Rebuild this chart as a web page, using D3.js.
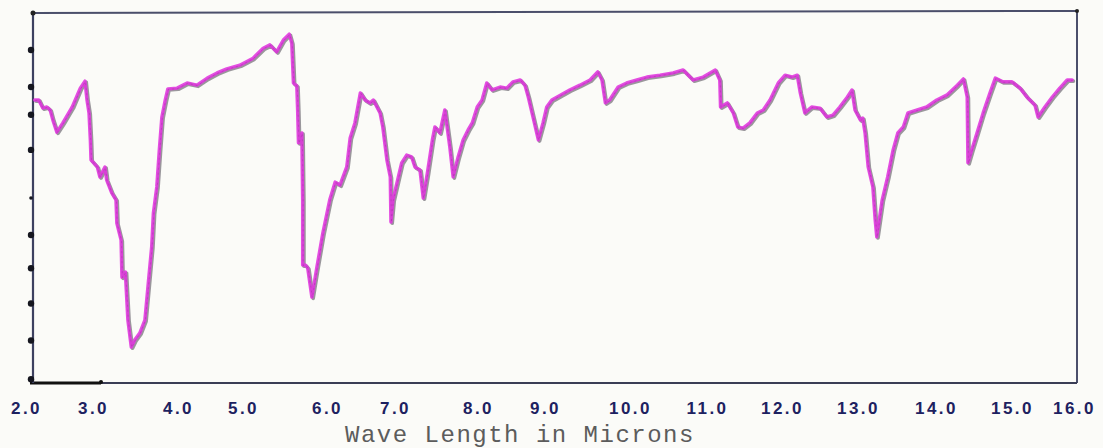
<!DOCTYPE html>
<html>
<head>
<meta charset="utf-8">
<script src="https://cdn.jsdelivr.net/npm/d3@7"></script>
<style>
  html, body { margin: 0; padding: 0; background: #fbfbf8; }
  svg { display: block; }
</style>
</head>
<body>
<div id="chart"></div>
<script>
// ---------------- DATA ----------------
// wavelength (microns) of the traced spectrum
const wavelength = [
  2.13, 2.19, 2.25, 2.31, 2.36, 2.40, 2.46, 2.55, 2.69, 2.81, 2.88, 2.91, 2.94, 2.96, 2.97,
  3.05, 3.08, 3.14, 3.16, 3.22, 3.27, 3.28, 3.33, 3.34, 3.38, 3.41, 3.45, 3.49, 3.55, 3.61,
  3.65, 3.69, 3.71, 3.75, 3.78, 3.81, 3.85, 3.88, 3.99, 4.14, 4.29, 4.45, 4.60, 4.75, 4.95,
  5.12, 5.24, 5.32, 5.40, 5.48, 5.55, 5.58, 5.60, 5.64, 5.65, 5.66, 5.70, 5.71, 5.71, 5.74,
  5.77, 5.82, 5.88, 5.95, 6.04, 6.12, 6.19, 6.29, 6.34, 6.41, 6.49, 6.56, 6.63, 6.68, 6.78,
  6.82, 6.88, 6.93, 6.94, 6.97, 7.04, 7.08, 7.14, 7.20, 7.24, 7.30, 7.34, 7.39, 7.45, 7.48,
  7.54, 7.60, 7.66, 7.70, 7.76, 7.82, 7.88, 7.93, 7.99, 8.06, 8.13, 8.21, 8.33, 8.43, 8.52,
  8.63, 8.70, 8.75, 8.82, 8.90, 8.97, 9.02, 9.08, 9.18, 9.29, 9.41, 9.53, 9.62, 9.67, 9.71,
  9.76, 9.86, 9.96, 10.09, 10.22, 10.39, 10.56, 10.69, 10.82, 10.95, 11.11, 11.17, 11.18, 11.27, 11.35,
  11.41, 11.48, 11.57, 11.67, 11.75, 11.84, 11.95, 12.04, 12.13, 12.20, 12.24, 12.30, 12.39, 12.50, 12.59,
  12.67, 12.76, 12.86, 12.92, 12.96, 13.03, 13.06, 13.09, 13.13, 13.19, 13.22, 13.24, 13.31, 13.38, 13.45,
  13.51, 13.58, 13.64, 13.76, 13.88, 14.01, 14.14, 14.28, 14.36, 14.41, 14.42, 14.47, 14.54, 14.62, 14.71,
  14.78, 14.88, 15.00, 15.13, 15.24, 15.37, 15.42, 15.53, 15.65, 15.77, 15.89, 15.97
];
// percent transmission at each wavelength
const transmission = [
  76.5, 76.5, 74.3, 74.6, 73.8, 71.1, 67.8, 70.3, 74.6, 79.7, 81.6, 76.5, 73.0, 65.7, 60.3,
  58.4, 55.7, 58.4, 54.9, 51.4, 49.5, 43.2, 38.6, 28.6, 30.0, 17.0, 9.7, 11.6, 13.5, 17.0,
  27.0, 36.8, 45.9, 53.0, 63.0, 71.9, 76.5, 79.5, 79.7, 81.1, 80.5, 82.4, 83.8, 84.9, 85.9,
  87.8, 90.5, 91.4, 89.5, 92.7, 94.3, 91.9, 81.1, 80.3, 73.8, 64.9, 67.6, 49.5, 31.9, 31.9,
  31.1, 23.2, 31.4, 40.5, 49.5, 54.3, 53.5, 58.4, 66.2, 70.3, 78.4, 76.5, 75.7, 76.5, 73.0,
  69.2, 60.3, 55.7, 43.5, 49.5, 55.7, 59.5, 61.6, 61.1, 58.4, 57.6, 50.0, 56.8, 65.7, 69.2,
  67.6, 73.8, 63.8, 55.7, 61.1, 65.7, 68.4, 70.3, 74.6, 76.5, 81.1, 79.2, 80.0, 79.7, 81.4,
  81.9, 80.5, 77.3, 71.9, 65.7, 70.3, 74.6, 76.5, 77.8, 79.2, 80.5, 81.9, 84.1, 81.9, 75.7,
  76.5, 80.0, 81.1, 81.9, 82.7, 83.2, 83.8, 84.6, 81.9, 82.7, 84.6, 81.9, 74.6, 75.7, 73.0,
  69.2, 68.9, 70.3, 73.0, 73.8, 76.5, 81.1, 83.2, 82.7, 83.2, 78.4, 73.0, 74.6, 74.3, 71.9,
  72.4, 74.6, 77.3, 79.2, 73.8, 71.1, 71.6, 67.6, 58.4, 53.0, 44.1, 39.5, 49.5, 55.7, 63.0,
  67.6, 69.2, 73.0, 73.8, 74.6, 76.5, 77.8, 80.5, 82.2, 77.3, 59.5, 63.0, 67.6, 73.0, 78.4,
  82.4, 81.4, 81.4, 79.7, 77.3, 75.1, 71.9, 74.6, 77.3, 79.7, 81.9, 81.9
];
// x-axis tick values (microns) and their labels
const xTickValues = [2, 3, 4, 5, 6, 7, 8, 9, 10, 11, 12, 13, 14, 15, 16];
const xTickLabels = ["2.0", "3.0", "4.0", "5.0", "6.0", "7.0", "8.0", "9.0", "10.0", "11.0", "12.0", "13.0", "14.0", "15.0", "16.0"];
// hand-placed dots on the left (transmission) axis
const yTickDots = [90, 80, 72.5, 63, 50, 40, 31, 21.5, 11.5, 1];
const xAxisTitle = "Wave Length in Microns";

// ---------------- LAYOUT ----------------
const W = 1103, H = 448;
const plot = { left: 33, right: 1077, top: 13, bottom: 383 };
// the hand-drawn (prism) wavelength scale is non-uniform: pixel stop of each integer micron
const xStops = [26, 93, 178, 243, 327, 395, 478, 545, 630, 707, 782, 858, 936, 1012, 1074];

const x = d3.scaleLinear().domain(xTickValues).range(xStops);
const y = d3.scaleLinear().domain([0, 100]).range([plot.bottom, plot.top]);

const svg = d3.select("#chart").append("svg")
  .attr("width", W).attr("height", H)
  .attr("viewBox", `0 0 ${W} ${H}`);

svg.append("rect").attr("width", W).attr("height", H).attr("fill", "#fbfbf8");

const frameColor = "#4b4f6b";
// frame
svg.append("line").attr("x1", plot.left).attr("x2", plot.right)
  .attr("y1", plot.top).attr("y2", plot.top - 2)
  .attr("stroke", frameColor).attr("stroke-width", 2);
svg.append("line").attr("x1", plot.right).attr("x2", plot.right)
  .attr("y1", plot.top - 2).attr("y2", plot.bottom)
  .attr("stroke", frameColor).attr("stroke-width", 2);
svg.append("line").attr("x1", plot.left - 3).attr("x2", plot.right)
  .attr("y1", plot.bottom).attr("y2", plot.bottom)
  .attr("stroke", "#3a3d55").attr("stroke-width", 2.2);
svg.append("line").attr("x1", plot.left - 3).attr("x2", plot.left + 68)
  .attr("y1", plot.bottom).attr("y2", plot.bottom)
  .attr("stroke", "#111").attr("stroke-width", 3);
svg.append("line").attr("x1", plot.left).attr("x2", plot.left)
  .attr("y1", plot.top).attr("y2", plot.bottom)
  .attr("stroke", "#3d4160").attr("stroke-width", 2.2);

// corner dots
svg.append("circle").attr("cx", plot.left).attr("cy", plot.top).attr("r", 2.5).attr("fill", "#222");
svg.append("circle").attr("cx", plot.right).attr("cy", plot.top - 2).attr("r", 2).attr("fill", "#222");
svg.append("circle").attr("cx", plot.left + 68).attr("cy", plot.bottom - 1).attr("r", 2).attr("fill", "#111");

// y-axis dots
svg.append("g").selectAll("circle").data(yTickDots).join("circle")
  .attr("cx", plot.left - 2)
  .attr("cy", d => y(d))
  .attr("r", (d, i) => i === 4 ? 1.8 : 3.2)
  .attr("fill", "#15161f");

// spectrum
const pts = wavelength.map((w, i) => [w, transmission[i]]);
const line = d3.line().x(d => x(d[0])).y(d => y(d[1]));

svg.append("path").datum(pts)
  .attr("d", line)
  .attr("transform", "translate(1.3,1.2)")
  .attr("fill", "none")
  .attr("stroke", "#9a979c")
  .attr("stroke-width", 3.6)
  .attr("stroke-linejoin", "round")
  .attr("stroke-linecap", "round");

svg.append("path").datum(pts)
  .attr("d", line)
  .attr("fill", "none")
  .attr("stroke", "#e035de")
  .attr("stroke-opacity", 0.88)
  .attr("stroke-width", 3.4)
  .attr("stroke-linejoin", "round")
  .attr("stroke-linecap", "round");

svg.append("path").datum(pts)
  .attr("d", line)
  .attr("transform", "translate(0.5,0.5)")
  .attr("fill", "none")
  .attr("stroke", "#7a2a7e")
  .attr("stroke-opacity", 0.25)
  .attr("stroke-width", 1)
  .attr("stroke-dasharray", "2 3")
  .attr("stroke-linejoin", "round");

// x tick labels
const xAxis = d3.axisBottom(x)
  .tickValues(xTickValues)
  .tickFormat((d, i) => xTickLabels[i])
  .tickSize(0)
  .tickPadding(0);

const gx = svg.append("g")
  .attr("transform", `translate(0,${plot.bottom})`)
  .call(xAxis);
gx.select(".domain").remove();
gx.selectAll("text")
  .attr("y", 31)
  .attr("dy", 0)
  .attr("fill", "#1d2160")
  .style("font-family", "'Liberation Sans', Arial, sans-serif")
  .style("font-weight", "bold")
  .style("font-size", "17px")
  .style("letter-spacing", "2.5px");

// axis title
svg.append("text")
  .attr("x", 520).attr("y", 442)
  .attr("text-anchor", "middle")
  .attr("fill", "#5c5c5c")
  .style("font-family", "'Liberation Mono', 'DejaVu Sans Mono', monospace")
  .style("font-size", "24px")
  .style("letter-spacing", "1.5px")
  .text(xAxisTitle);
</script>
</body>
</html>
